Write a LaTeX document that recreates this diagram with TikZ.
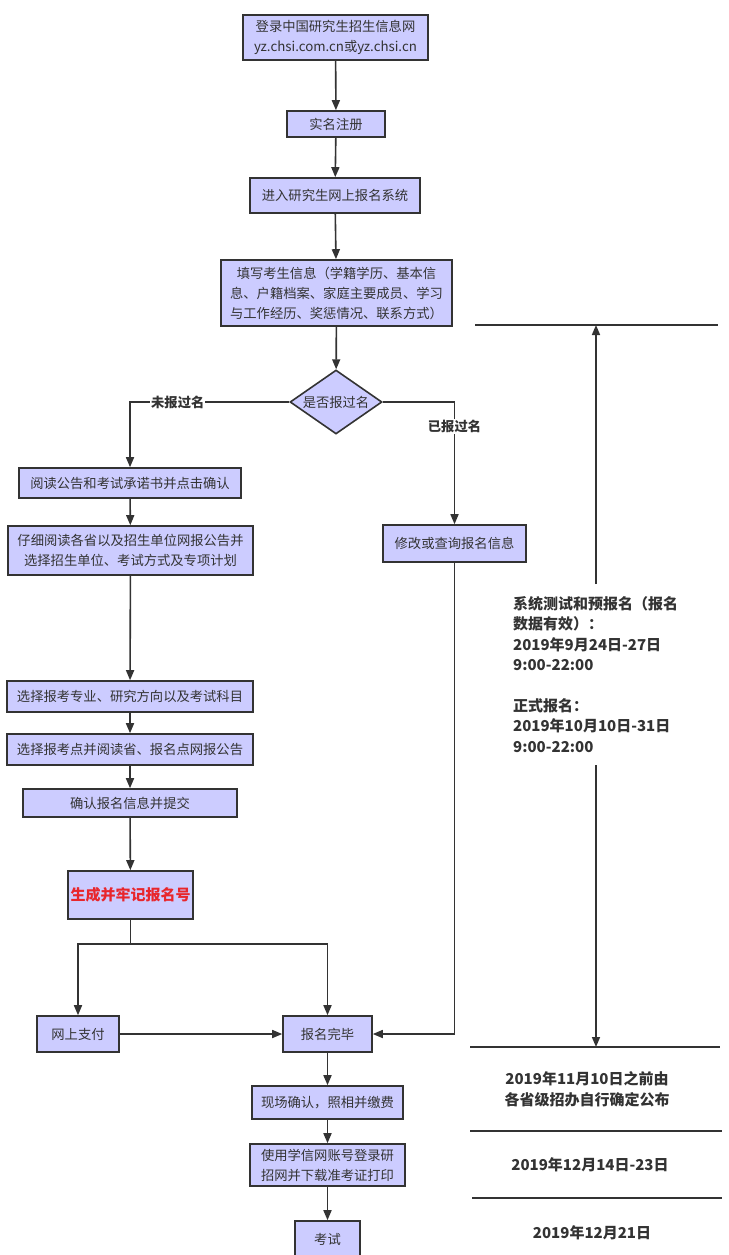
\documentclass[tikz,border=0pt]{standalone}
\usepackage{fontspec}
\setmainfont{Noto Sans CJK SC}
\usetikzlibrary{arrows.meta,shapes.geometric}
\definecolor{boxfill}{HTML}{CCCCFF}
\definecolor{ink}{HTML}{333333}
\definecolor{redtxt}{HTML}{E8262C}
\begin{document}
\begin{tikzpicture}[x=1pt,y=-1pt,
  box/.style={draw=ink, line width=1.6pt, fill=boxfill, text=ink, inner sep=0pt,
    font=\fontsize{13.3}{20}\selectfont, align=center},
  dia/.style={shape=diamond, draw=ink, line width=1.6pt, fill=boxfill, text=ink, inner sep=0pt,
    aspect=1.44, font=\fontsize{13.3}{20}\selectfont},
  arr/.style={draw=ink, line width=1.6pt, -{Triangle[length=10pt,width=8pt]}},
  plain/.style={draw=ink, line width=1.6pt},
  lbl/.style={fill=white, text=ink, inner sep=1pt, font=\fontsize{13.3}{16}\selectfont\bfseries},
  rtxt/.style={text=ink, inner sep=0pt, font=\fontsize{15}{20.5}\selectfont\bfseries},
  sepline/.style={draw=ink, line width=2.2pt}]
\useasboundingbox[fill=white] (0,0) rectangle (728,1255);

% main column
\node[box, minimum width=185pt, minimum height=45pt] (b1) at (335.5,37.5) {登录中国研究生招生信息网\\yz.chsi.com.cn或yz.chsi.cn};
\node[box, minimum width=98pt, minimum height=26pt] (b2) at (336,124) {实名注册};
\node[box, minimum width=170pt, minimum height=35pt] (b3) at (335,195.5) {进入研究生网上报名系统};
\node[box, minimum width=231pt, minimum height=66pt] (b4) at (336.5,293) {填写考生信息（学籍学历、基本信\\息、户籍档案、家庭主要成员、学习\\与工作经历、奖惩情况、联系方式）};
\node[dia, minimum width=92pt, minimum height=64pt] (d) at (336,402) {是否报过名};

% left column
\node[box, minimum width=222pt, minimum height=30pt] (b5) at (130,483) {阅读公告和考试承诺书并点击确认};
\node[box, minimum width=245pt, minimum height=49pt] (b6) at (130.5,550.5) {仔细阅读各省以及招生单位网报公告并\\选择招生单位、考试方式及专项计划};
\node[box, minimum width=246pt, minimum height=31pt] (b7) at (130,696.5) {选择报考专业、研究方向以及考试科目};
\node[box, minimum width=246pt, minimum height=31pt] (b8) at (130,749.5) {选择报考点并阅读省、报名点网报公告};
\node[box, minimum width=214pt, minimum height=28pt] (b9) at (130,803) {确认报名信息并提交};
\node[box, minimum width=125pt, minimum height=48pt, text=redtxt, font=\fontsize{15}{20}\selectfont\bfseries] (b10) at (130.5,895) {生成并牢记报名号};

% right branch
\node[box, minimum width=143pt, minimum height=37pt] (mod) at (454.5,543.5) {修改或查询报名信息};

% bottom
\node[box, minimum width=82pt, minimum height=36pt] (pay) at (78,1034) {网上支付};
\node[box, minimum width=89pt, minimum height=36pt] (done) at (327.5,1034) {报名完毕};
\node[box, minimum width=151pt, minimum height=33pt] (site) at (327.5,1102.5) {现场确认，照相并缴费};
\node[box, minimum width=155pt, minimum height=42pt] (print) at (327.5,1165) {使用学信网账号登录研\\招网并下载准考证打印};
\node[box, minimum width=65pt, minimum height=36pt] (exam) at (327.5,1239) {考试};

% connectors
\draw[arr] (b1) -- (b2);
\draw[arr] (b2) -- (b3);
\draw[arr] (b3) -- (b4);
\draw[arr] (b4) -- (d);
\draw[arr] (d.west) -| (b5.north) node[lbl, pos=0.35] {未报过名};
\draw[arr] (d.east) -| (mod.north) node[lbl, pos=0.6] {已报过名};
\draw[arr] (b5) -- (b6);
\draw[arr] (b6) -- (b7);
\draw[arr] (b7) -- (b8);
\draw[arr] (b8) -- (b9);
\draw[arr] (b9) -- (b10);
\coordinate (split) at (130.5,944);
\draw[plain] (b10.south) -- (split);
\draw[arr] (split) -| (pay.north);
\draw[arr] (split) -| (done.north);
\draw[arr] (pay) -- (done);
\draw[arr] (mod.south) |- (done.east);
\draw[arr] (done) -- (site);
\draw[arr] (site) -- (print);
\draw[arr] (print) -- (exam);

% right timeline
\coordinate (l1a) at (475,325);  \coordinate (l1b) at (718,325);
\coordinate (l2a) at (470,1047); \coordinate (l2b) at (720,1047);
\coordinate (l3a) at (470,1131); \coordinate (l3b) at (722,1131);
\coordinate (l4a) at (472,1198); \coordinate (l4b) at (722,1198);
\draw[sepline] (l1a) -- (l1b);
\draw[sepline] (l2a) -- (l2b);
\draw[sepline] (l3a) -- (l3b);
\draw[sepline] (l4a) -- (l4b);

\node[rtxt, anchor=north west, align=left] (rt) at (513,596) {系统测试和预报名（报名\\数据有效）：\\2019年9月24日-27日\\9:00-22:00\\[20pt]正式报名：\\2019年10月10日-31日\\9:00-22:00};
\coordinate (ra) at (596,584);
\coordinate (rb) at (596,765);
\draw[arr] (ra) -- (ra |- l1a);
\draw[arr] (rb) -- (rb |- l2a);

\node[rtxt, align=center, font=\fontsize{15}{21}\selectfont\bfseries] (r2) at (587,1089) {2019年11月10日之前由\\各省级招办自行确定公布};
\node[rtxt] (r3) at (590,1165) {2019年12月14日-23日};
\node[rtxt] (r4) at (592,1233) {2019年12月21日};
\end{tikzpicture}
\end{document}
